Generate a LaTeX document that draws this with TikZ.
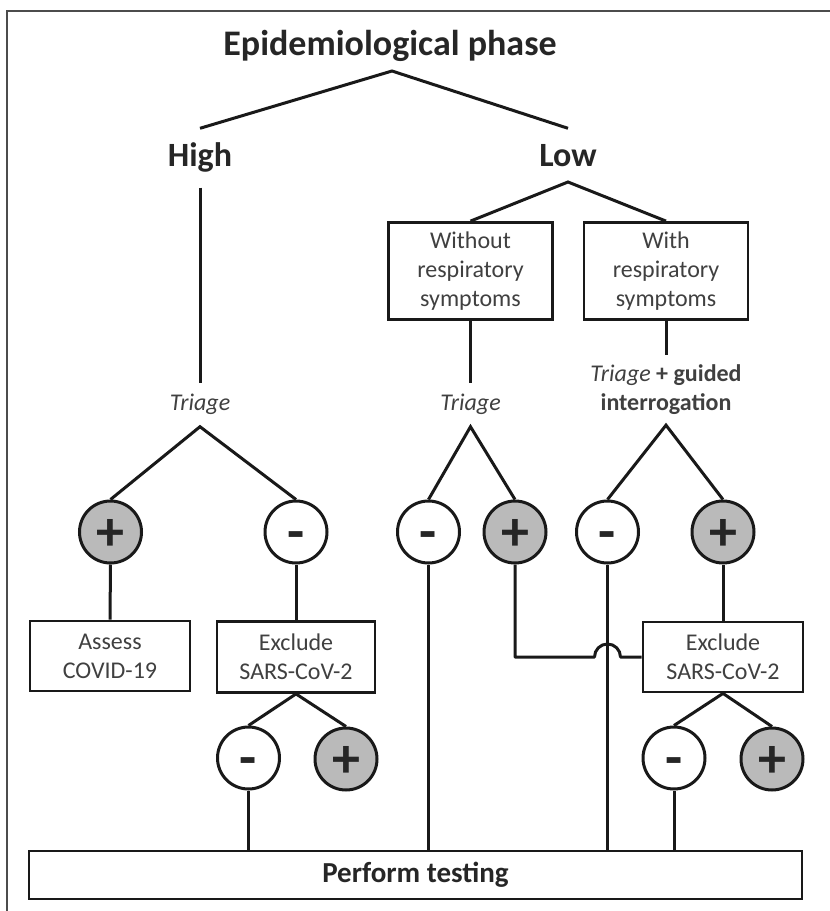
\documentclass[tikz,border=0pt]{standalone}
\usepackage{fontspec}
\setmainfont{Carlito}
\begin{document}
\begin{tikzpicture}[x=1pt,y=-1pt,
  ln/.style={line width=3pt, draw=black!90},
  box/.style={draw=black!90, line width=2.8pt, fill=white, align=center, inner sep=0pt,
    font=\fontsize{24}{29}\selectfont, text=black!75},
  pluscirc/.style={circle, draw=black!90, line width=3pt, fill=black!27, minimum size=62pt, inner sep=0pt,
    font=\fontsize{56}{56}\selectfont\bfseries, text=black!85, text height=36pt, text depth=0pt},
  minuscirc/.style={pluscirc, fill=white},
  lbl/.style={inner xsep=0pt, inner ysep=10pt, font=\fontsize{24}{29}\selectfont, text=black!75, align=center},
  tri/.style={lbl, text height=17pt, text depth=6pt},
  head/.style={font=\fontsize{34}{40}\selectfont\bfseries, text=black!85, inner xsep=0pt, inner ysep=13pt,
    text height=25pt, text depth=8pt},
  ttl/.style={font=\fontsize{36}{42}\selectfont\bfseries, text=black!85, inner sep=0pt}
]
\useasboundingbox (0,0) rectangle (830,911);
% frame (cropped)
\draw[line width=1.5pt, black!70] (7,911) -- (7,11) -- (830,11);

% top
\node[ttl] (title) at (390,46) {Epidemiological phase};
\coordinate (tpk) at (392,71);
\node[head] (high) at (200,158) {High};
\node[head] (low) at (568,158) {Low};
\coordinate (lpk) at (568,182);

% low boxes
\node[box, minimum width=164pt, minimum height=97pt] (without) at (470.5,271) {Without\\respiratory\\symptoms};
\node[box, minimum width=164pt, minimum height=97pt] (with) at (666,271) {With\\respiratory\\symptoms};

% labels
\node[tri] (tri1) at (200,405) {\itshape Triage};
\node[tri] (tri2) at (470.5,405) {\itshape Triage};
\node[lbl] (guided) at (666,390) {\textit{Triage} \textbf{+ guided}\\\textbf{interrogation}};

% circles
\node[pluscirc] (hp) at (110.5,532) {+};
\node[minuscirc] (hm) at (296,532) {-};
\node[minuscirc] (lm) at (428.5,532) {-};
\node[pluscirc] (lp) at (515,532) {+};
\node[minuscirc] (gm) at (607.5,532) {-};
\node[pluscirc] (gp) at (723,532) {+};

% boxes row
\node[box, minimum width=160pt, minimum height=70pt] (assess) at (110,656) {Assess\\COVID-19};
\node[box, minimum width=158pt, minimum height=71pt] (exclL) at (296,657) {Exclude\\SARS-CoV-2};
\node[box, minimum width=160pt, minimum height=70pt] (exclR) at (723,657) {Exclude\\SARS-CoV-2};

% bottom circles
\node[minuscirc] (blm) at (248.5,758) {-};
\node[pluscirc] (blp) at (346,759) {+};
\node[minuscirc] (brm) at (674,758) {-};
\node[pluscirc] (brp) at (772,759) {+};

% perform testing
\node[box, minimum width=773pt, minimum height=48pt, font=\fontsize{29}{34}\selectfont\bfseries, text=black!85] (perf) at (415.5,875) {Perform testing};

% connectors
\draw[ln] (high.north) -- (tpk) -- (low.north);
\draw[ln] (without.north) -- (lpk) -- (with.north);
\draw[ln] (high.south) -- (tri1.north);
\draw[ln] (without.south) -- (tri2.north);
\draw[ln] (with.south) -- (guided.north);

\draw[ln] (hp.north) -- (tri1.south) -- (hm.north);
\draw[ln] (lm.north) -- (tri2.south) -- (lp.north);
\draw[ln] (gm.north) -- (guided.south) -- (gp.north);

\draw[ln] (hp.south) -- (assess.north);
\draw[ln] (hm.south) -- (exclL.north);
\draw[ln] (gp.south) -- (exclR.north);

\draw[ln] (blm.north) -- (exclL.south) -- (blp.north);
\draw[ln] (brm.north) -- (exclR.south) -- (brp.north);

\draw[ln] (blm.south) -- (blm.south |- perf.north);
\draw[ln] (lm.south) -- (lm.south |- perf.north);
\draw[ln] (gm.south) -- (gm.south |- perf.north);
\draw[ln] (brm.south) -- (brm.south |- perf.north);

% line with hop-over
\draw[ln, line join=round] (lp.south) -- (lp.south |- exclR.west)
  -- ([xshift=-13pt]gm.south |- exclR.west) arc[start angle=180, end angle=0, radius=13pt]
  -- (exclR.west);
\end{tikzpicture}
\end{document}
